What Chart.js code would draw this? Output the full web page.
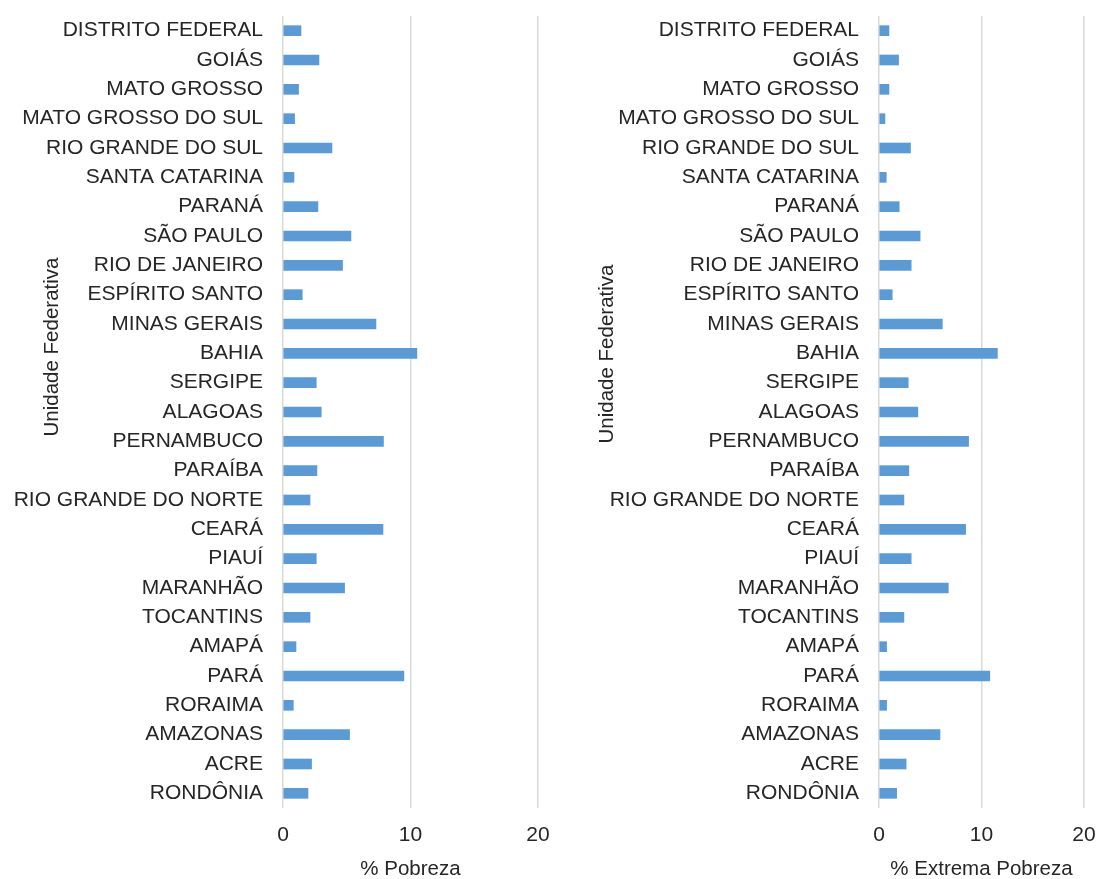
<!DOCTYPE html>
<html>
<head>
<meta charset="utf-8">
<script src="https://cdn.jsdelivr.net/npm/chart.js@4/dist/chart.umd.min.js"></script>
<style>
  html, body { margin: 0; padding: 0; background: #ffffff; }
  body { width: 1100px; height: 879px; position: relative; overflow: hidden; }
  .panel { position: absolute; top: 0; height: 879px; }
  #left { left: 0; width: 560px; }
  #right { left: 560px; width: 540px; }
</style>
</head>
<body>
<div class="panel" id="left"><canvas id="cPobreza"></canvas></div>
<div class="panel" id="right"><canvas id="cExtrema"></canvas></div>
<script>
// Federative units, listed top to bottom
const estados = [
  'DISTRITO FEDERAL', 'GOIÁS', 'MATO GROSSO', 'MATO GROSSO DO SUL',
  'RIO GRANDE DO SUL', 'SANTA CATARINA', 'PARANÁ', 'SÃO PAULO',
  'RIO DE JANEIRO', 'ESPÍRITO SANTO', 'MINAS GERAIS', 'BAHIA',
  'SERGIPE', 'ALAGOAS', 'PERNAMBUCO', 'PARAÍBA', 'RIO GRANDE DO NORTE',
  'CEARÁ', 'PIAUÍ', 'MARANHÃO', 'TOCANTINS', 'AMAPÁ', 'PARÁ',
  'RORAIMA', 'AMAZONAS', 'ACRE', 'RONDÔNIA'
];

// Share of the national poor population (%)
const pobreza = [
  1.41, 2.82, 1.22, 0.91, 3.84, 0.86, 2.74, 5.33, 4.67, 1.51, 7.29, 10.50,
  2.61, 3.00, 7.88, 2.66, 2.12, 7.84, 2.61, 4.83, 2.12, 1.02, 9.48,
  0.81, 5.22, 2.24, 1.96
];

// Share of the national extremely poor population (%)
const extremaPobreza = [
  0.97, 1.91, 0.97, 0.58, 3.07, 0.71, 1.97, 4.01, 3.14, 1.29, 6.18, 11.55,
  2.85, 3.79, 8.74, 2.91, 2.43, 8.45, 3.14, 6.76, 2.43, 0.74, 10.81,
  0.74, 5.95, 2.65, 1.72
];

const xTicks = [0, 10, 20];
const yTitle = 'Unidade Federativa';

const FONT = "'Liberation Sans', Arial, sans-serif";
const TEXT = '#262626';
const GRID = '#d9d9d9';
const BAR = '#5b9bd5';

// Rotated y-axis title drawn at a fixed spot, overlapping the label column
const yTitlePlugin = {
  id: 'yTitle',
  afterDraw(chart, args, opts) {
    const ctx = chart.ctx;
    ctx.save();
    ctx.translate(opts.x, opts.y);
    ctx.rotate(-Math.PI / 2);
    ctx.font = '20.5px ' + FONT;
    ctx.fillStyle = TEXT;
    ctx.textAlign = 'center';
    ctx.textBaseline = 'middle';
    ctx.fillText(yTitle, 0, 0);
    ctx.restore();
  }
};

function makeChart(id, values, xTitle, axisWidth, rightPad, titlePos) {
  return new Chart(document.getElementById(id), {
    type: 'bar',
    data: {
      labels: estados,
      datasets: [{
        data: values,
        backgroundColor: BAR,
        borderWidth: 0,
        barThickness: 10
      }]
    },
    options: {
      indexAxis: 'y',
      responsive: true,
      maintainAspectRatio: false,
      animation: false,
      layout: { padding: { top: 16, right: rightPad, bottom: 0, left: 0 } },
      plugins: {
        legend: { display: false },
        tooltip: { enabled: false },
        yTitle: titlePos
      },
      scales: {
        x: {
          min: xTicks[0],
          max: xTicks[xTicks.length - 1],
          afterBuildTicks(scale) { scale.ticks = xTicks.map(v => ({ value: v })); },
          afterFit(scale) {
            scale.height = 71;
            scale.paddingLeft = 0;
            scale.paddingRight = 0;
          },
          grid: { color: GRID, lineWidth: 1.5, drawTicks: false },
          border: { display: false },
          ticks: { color: TEXT, font: { family: FONT, size: 21 }, padding: 15 },
          title: {
            display: true, text: xTitle, color: TEXT,
            font: { family: FONT, size: 20.5, lineHeight: 0.9 },
            padding: { top: 12, bottom: 0 }
          }
        },
        y: {
          grid: { display: false, drawTicks: false },
          border: { display: false },
          ticks: { color: TEXT, font: { family: FONT, size: 21 }, padding: 20, autoSkip: false },
          afterFit(scale) {
            scale.width = axisWidth;
            scale.paddingTop = 0;
            scale.paddingBottom = 0;
          }
        }
      }
    },
    plugins: [yTitlePlugin]
  });
}

makeChart('cPobreza', pobreza, '% Pobreza', 283, 22, { x: 52, y: 347 });
makeChart('cExtrema', extremaPobreza, '% Extrema Pobreza', 319, 16, { x: 47, y: 354 });
</script>
</body>
</html>
